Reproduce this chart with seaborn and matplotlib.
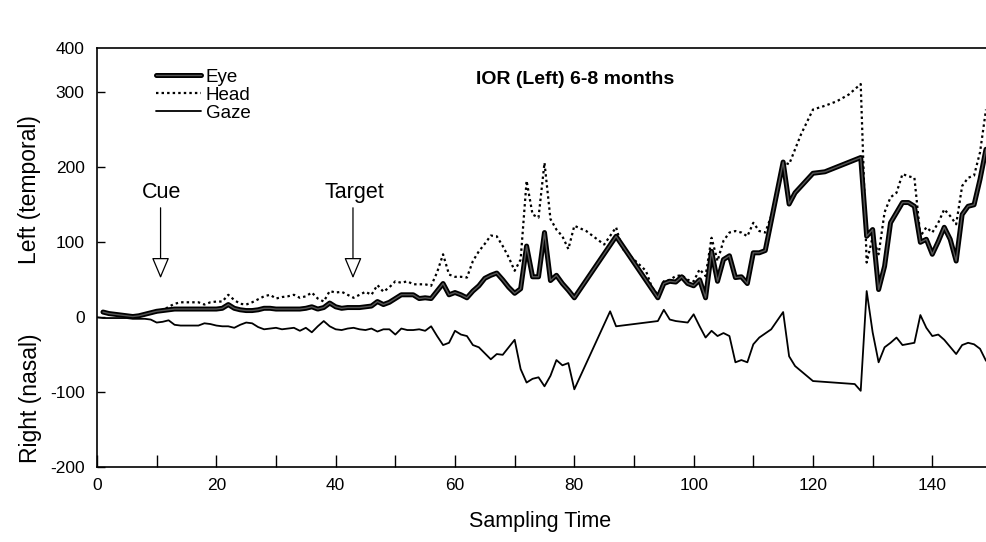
import matplotlib
matplotlib.use("Agg")
import matplotlib.pyplot as plt
import matplotlib.patheffects as pe
from matplotlib.lines import Line2D
import seaborn as sns
import pandas as pd

# Eye position (thick line)
eye_t = [1, 2, 3, 4, 5, 6, 7, 8, 9, 10, 11, 12, 13, 14, 15, 16, 17, 18, 19, 20,
         21, 22, 23, 24, 25, 26, 27, 28, 29, 30, 31, 32, 33, 34, 35, 36, 37, 38, 39, 40,
         41, 42, 43, 44, 45, 46, 47, 48, 49, 50, 51, 52, 53, 54, 55, 56, 57, 58, 59, 60,
         61, 62, 63, 64, 65, 66, 67, 68, 69, 70, 71, 72, 73, 74, 75, 76, 77, 78, 79, 80,
         87, 94, 95, 96, 97, 98, 99, 100, 101, 102, 103, 104, 105, 106, 107, 108, 109, 110,
         111, 112, 115, 116, 117, 120, 122, 128, 129, 130, 131, 132, 133, 135, 136, 137,
         138, 139, 140, 141, 142, 143, 144, 145, 146, 147, 148, 149]
eye_v = [7, 5, 4, 3, 2, 1, 2, 4, 6, 8, 9, 10, 11, 11, 11, 11, 11, 11, 11, 11,
         12, 17, 12, 10, 9, 9, 10, 12, 12, 11, 11, 11, 11, 11, 12, 14, 11, 13, 19, 14,
         12, 13, 13, 13, 14, 15, 21, 17, 20, 25, 30, 30, 30, 25, 26, 25, 35, 45, 30, 33,
         30, 26, 35, 42, 52, 56, 59, 50, 40, 32, 38, 95, 54, 54, 113, 49, 56, 45, 36, 26,
         108, 26, 45, 48, 47, 54, 45, 42, 50, 26, 88, 48, 77, 82, 53, 54, 45, 86,
         86, 89, 207, 151, 166, 192, 194, 213, 108, 117, 37, 68, 126, 153, 153, 148,
         100, 104, 84, 101, 120, 104, 75, 137, 148, 150, 184, 224]

# Head position (dotted line)
head_t = [8, 9, 10, 11, 12, 13, 14, 15, 16, 17, 18, 19, 20, 21, 22, 23, 24, 25, 26, 27,
          28, 29, 30, 31, 32, 33, 34, 35, 36, 37, 38, 39, 40, 41, 42, 43, 44, 45, 46, 47,
          48, 49, 50, 51, 52, 53, 54, 55, 56, 57, 58, 59, 60, 61, 62, 63, 64, 65, 66, 67,
          68, 69, 70, 71, 72, 73, 74, 75, 76, 77, 78, 79, 80, 82, 85, 87, 88, 92, 93, 94,
          95, 96, 97, 98, 99, 100, 101, 102, 103, 104, 105, 106, 107, 108, 109, 110, 111,
          112, 113, 115, 116, 118, 120, 122, 124, 126, 128, 129, 130, 131, 132, 133, 134,
          135, 136, 137, 138, 139, 140, 141, 142, 143, 144, 145, 146, 147, 148, 149]
head_v = [3, 5, 7, 9, 14, 18, 20, 20, 20, 20, 17, 20, 21, 21, 30, 23, 18, 17, 20, 24,
          28, 30, 25, 27, 28, 30, 26, 28, 33, 25, 21, 35, 33, 34, 30, 26, 30, 34, 30, 43,
          34, 40, 48, 46, 48, 44, 44, 44, 42, 60, 84, 57, 54, 54, 53, 75, 88, 98, 109, 108,
          95, 80, 62, 77, 182, 137, 133, 206, 131, 117, 108, 91, 122, 115, 97, 120, 92, 62, 40, 30,
          48, 50, 55, 56, 50, 48, 64, 55, 106, 75, 102, 113, 115, 113, 108, 126, 115,
          113, 135, 207, 204, 244, 277, 282, 288, 297, 311, 73, 107, 84, 140, 160, 166,
          191, 188, 186, 108, 120, 113, 126, 144, 135, 124, 175, 186, 189, 220, 277]

# Gaze position (thin line)
gaze_t = [0, 1, 2, 3, 4, 5, 6, 7, 8, 9, 10, 11, 12, 13, 14, 15, 16, 17, 18, 19, 20,
          21, 22, 23, 24, 25, 26, 27, 28, 29, 30, 31, 32, 33, 34, 35, 36, 37, 38, 39, 40,
          41, 42, 43, 44, 45, 46, 47, 48, 49, 50, 51, 52, 53, 54, 55, 56, 57, 58, 59, 60,
          61, 62, 63, 64, 65, 66, 67, 68, 69, 70, 71, 72, 73, 74, 75, 76, 77, 78, 79, 80,
          86, 87, 94, 95, 96, 97, 99, 100, 101, 102, 103, 104, 105, 106, 107, 108, 109, 110,
          111, 113, 115, 116, 117, 120, 127, 128, 129, 130, 131, 132, 133, 134, 135, 137,
          138, 139, 140, 141, 142, 144, 145, 146, 147, 148, 149]
gaze_v = [0, -1, -1, -1, -1, -1, -2, -2, -2, -3, -7, -6, -4, -10, -11, -11, -11, -11, -8, -9, -11,
          -12, -12, -14, -10, -7, -8, -13, -16, -15, -14, -16, -15, -14, -18, -14, -20, -12, -5, -12, -16,
          -17, -15, -14, -16, -17, -15, -19, -16, -16, -23, -15, -17, -17, -16, -18, -12, -25, -37, -34, -18,
          -23, -25, -37, -40, -48, -56, -49, -50, -40, -30, -69, -87, -82, -80, -92, -78, -57, -64, -61, -96,
          8, -12, -5, 10, -3, -5, -7, 4, -12, -27, -18, -25, -21, -25, -60, -57, -60, -36,
          -27, -16, 7, -52, -65, -85, -89, -98, 35, -20, -60, -40, -34, -27, -37, -34,
          3, -14, -25, -23, -30, -49, -37, -34, -36, -42, -58]

x_ticks = [0, 20, 40, 60, 80, 100, 120, 140]
y_ticks = [-200, -100, 0, 100, 200, 300]

sns.set_style("white")
plt.rcParams["font.family"] = ["Liberation Sans", "DejaVu Sans"]
plt.rcParams["axes.unicode_minus"] = False
plt.rcParams["text.color"] = "black"
plt.rcParams["xtick.color"] = "black"
plt.rcParams["ytick.color"] = "black"

fig = plt.figure(figsize=(9.86, 5.42), dpi=100)
ax = fig.add_axes([0.0984, 0.1378, 0.9016, 0.7736])

eye = pd.DataFrame({"t": eye_t, "v": eye_v})
head = pd.DataFrame({"t": head_t, "v": head_v})
gaze = pd.DataFrame({"t": gaze_t, "v": gaze_v})

eye_fx = [pe.Stroke(linewidth=3.6, foreground="black"), pe.Normal()]

sns.lineplot(data=gaze, x="t", y="v", ax=ax, color="black", lw=1.3,
             sort=False, estimator=None)
sns.lineplot(data=head, x="t", y="v", ax=ax, color="black", lw=1.6,
             sort=False, estimator=None, linestyle=(0, (1.1, 1.4)))
sns.lineplot(data=eye, x="t", y="v", ax=ax, color="#555555", lw=1.0,
             sort=False, estimator=None, path_effects=eye_fx)

ax.set_xlim(0, 149)
ax.set_ylim(-200, 359)
ax.set_xticks(x_ticks)
ax.set_xticks([10, 30, 50, 70, 90, 110, 130], minor=True)
# top edge of the scanned axis carries the "400" label
ax.set_yticks(y_ticks + [359])
ax.set_yticklabels([str(v) for v in y_ticks] + ["400"])
ax.tick_params(axis="x", which="both", direction="in", length=9, width=1,
               bottom=True, labelsize=12.5, pad=8)
ax.tick_params(axis="y", direction="in", length=6, width=1,
               left=True, labelsize=12.5, pad=9)
ax.yaxis.get_major_ticks()[-1].tick1line.set_visible(False)

for side in ["left", "bottom", "top"]:
    ax.spines[side].set_color("black")
    ax.spines[side].set_linewidth(1.2)
ax.spines["right"].set_visible(False)

ax.set_xlabel("")
ax.set_ylabel("")
fig.text(540 / 986, 1 - 522 / 542, "Sampling Time", ha="center", va="center", fontsize=15.5)
fig.text(30 / 986, 1 - 190 / 542, "Left (temporal)", ha="center", va="center",
         rotation=90, fontsize=16.5)
fig.text(30 / 986, 1 - 398 / 542, "Right (nasal)", ha="center", va="center",
         rotation=90, fontsize=16.5)

ax.text(0.538, 0.926, "IOR (Left) 6-8 months", transform=ax.transAxes,
        ha="center", va="center", fontsize=14, fontweight="bold")

arrow = dict(arrowstyle="-|>,head_length=1.3,head_width=0.55", fc="white",
             ec="black", lw=0.9, shrinkA=0, shrinkB=0)
for label, xpos in [("Cue", 10.65), ("Target", 42.9)]:
    ax.annotate("", xy=(xpos, 52), xytext=(xpos, 146), arrowprops=arrow)
    ax.text(xpos + 0.2, 166, label, ha="center", va="center", fontsize=15.5)

handles = [
    Line2D([], [], color="#555555", lw=1.0, path_effects=eye_fx),
    Line2D([], [], color="black", lw=1.6, linestyle=(0, (1.1, 1.4))),
    Line2D([], [], color="black", lw=1.3),
]
ax.legend(handles, ["Eye", "Head", "Gaze"], loc="upper left",
          bbox_to_anchor=(0.056, 0.973), frameon=False, fontsize=13.5,
          handlelength=2.4, handletextpad=0.25, labelspacing=0.04, borderpad=0)

fig.savefig("out.png", dpi=100)
